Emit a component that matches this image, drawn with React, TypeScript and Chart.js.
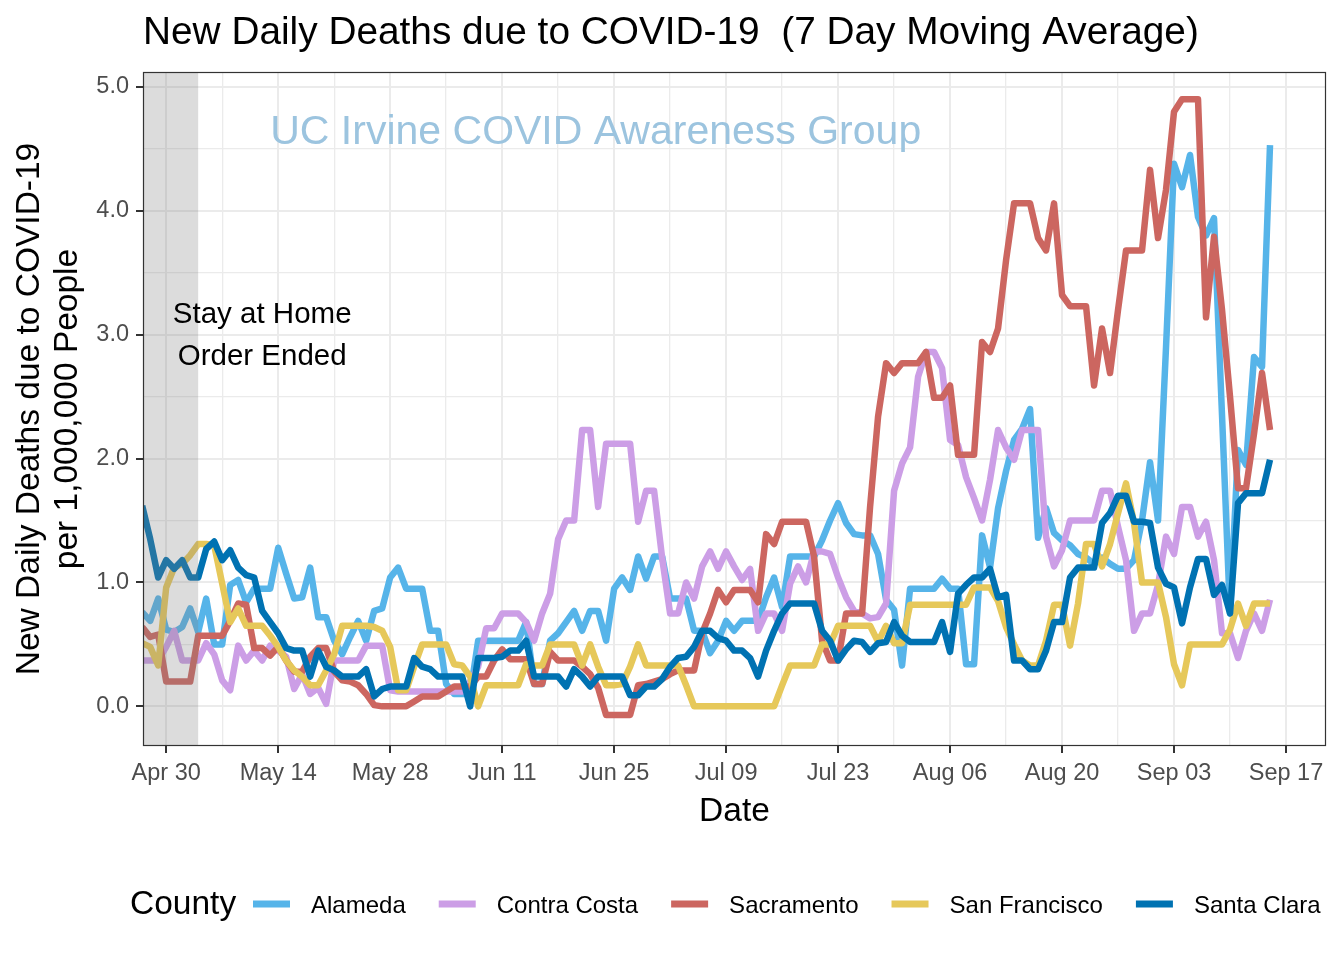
import React, { useEffect, useRef } from 'react';
import { Chart, registerables } from 'chart.js';

Chart.register(...registerables);

// Day index 0 = Apr 27, 2020
const counties = ['Alameda', 'Contra Costa', 'Sacramento', 'San Francisco', 'Santa Clara'];
const countyColors = ['#56B4E9', '#CC9EE6', '#CC6660', '#E6C85A', '#0072B2'];

const alameda = [
  0.76, 0.69, 0.87, 0.62, 0.60, 0.64, 0.79, 0.60, 0.87, 0.50,
  0.50, 0.98, 1.02, 0.84, 0.95, 0.95, 0.95, 1.28, 1.07, 0.87,
  0.88, 1.12, 0.72, 0.72, 0.53, 0.42, 0.56, 0.69, 0.53, 0.77,
  0.79, 1.04, 1.12, 0.95, 0.95, 0.95, 0.61, 0.61, 0.18, 0.10,
  0.10, 0.10, 0.53, 0.53, 0.53, 0.53, 0.53, 0.53, 0.68, 0.18,
  0.18, 0.53, 0.59, 0.68, 0.77, 0.61, 0.77, 0.77, 0.53, 0.95,
  1.04, 0.94, 1.21, 1.03, 1.21, 1.21, 0.87, 0.87, 0.87, 0.61,
  0.61, 0.43, 0.53, 0.69, 0.61, 0.69, 0.69, 0.69, 0.88, 1.04,
  0.80, 1.21, 1.21, 1.21, 1.21, 1.34, 1.50, 1.64, 1.48, 1.39,
  1.38, 1.38, 1.23, 0.86, 0.78, 0.33, 0.95, 0.95, 0.95, 0.95,
  1.03, 0.95, 0.95, 0.34, 0.34, 1.38, 1.12, 1.60, 1.90, 2.15,
  2.24, 2.40, 1.36, 1.60, 1.40, 1.34, 1.30, 1.23, 1.20, 1.15,
  1.20, 1.15, 1.11, 1.11, 1.18, 1.50, 1.97, 1.50, 2.90, 4.38,
  4.19, 4.45, 3.95, 3.80, 3.94, 2.35, 0.75, 2.07, 1.95, 2.82,
  2.74, 4.53,
];

const contraCosta = [
  0.37, 0.37, 0.37, 0.48, 0.61, 0.37, 0.37, 0.37, 0.51, 0.42,
  0.21, 0.13, 0.49, 0.37, 0.45, 0.37, 0.49, 0.45, 0.40, 0.14,
  0.26, 0.10, 0.15, 0.02, 0.37, 0.37, 0.37, 0.37, 0.49, 0.49,
  0.49, 0.13, 0.12, 0.12, 0.12, 0.12, 0.12, 0.12, 0.12, 0.12,
  0.12, 0.20, 0.32, 0.63, 0.63, 0.75, 0.75, 0.75, 0.68, 0.53,
  0.75, 0.91, 1.35, 1.50, 1.50, 2.23, 2.23, 1.61, 2.12, 2.12,
  2.12, 2.12, 1.49, 1.74, 1.74, 1.20, 0.75, 0.75, 1.00, 0.87,
  1.13, 1.25, 1.11, 1.25, 1.13, 1.02, 1.11, 0.61, 0.75, 0.75,
  0.61, 0.99, 1.13, 1.00, 1.25, 1.25, 1.23, 1.04, 0.88, 0.77,
  0.75, 0.71, 0.72, 0.83, 1.74, 1.96, 2.09, 2.66, 2.86, 2.86,
  2.73, 2.15, 2.11, 1.85, 1.68, 1.50, 1.83, 2.23, 2.09, 1.99,
  2.23, 2.23, 2.23, 1.37, 1.13, 1.26, 1.50, 1.50, 1.50, 1.50,
  1.74, 1.74, 1.45, 1.18, 0.61, 0.75, 0.75, 0.98, 1.37, 1.23,
  1.61, 1.61, 1.37, 1.49, 1.18, 0.59, 0.59, 0.39, 0.61, 0.75,
  0.61, 0.86,
];

const sacramento = [
  0.64, 0.56, 0.58, 0.20, 0.20, 0.20, 0.20, 0.57, 0.57, 0.57,
  0.57, 0.69, 0.83, 0.82, 0.47, 0.47, 0.41, 0.48, 0.37, 0.28,
  0.28, 0.40, 0.47, 0.47, 0.28, 0.21, 0.20, 0.17, 0.10, 0.01,
  0.00, 0.00, 0.00, 0.00, 0.04, 0.08, 0.08, 0.08, 0.12, 0.16,
  0.16, 0.16, 0.24, 0.24, 0.37, 0.46, 0.38, 0.38, 0.38, 0.18,
  0.18, 0.44, 0.37, 0.37, 0.37, 0.32, 0.26, 0.15, -0.07, -0.07,
  -0.07, -0.07, 0.17, 0.18, 0.20, 0.22, 0.26, 0.29, 0.29, 0.29,
  0.59, 0.75, 0.94, 0.84, 0.94, 0.94, 0.94, 0.84, 1.39, 1.31,
  1.49, 1.49, 1.49, 1.49, 1.21, 0.53, 0.37, 0.37, 0.75, 0.75,
  0.75, 1.61, 2.34, 2.77, 2.69, 2.77, 2.77, 2.77, 2.86, 2.49,
  2.49, 2.59, 2.03, 2.03, 2.03, 2.94, 2.86, 3.05, 3.60, 4.06,
  4.06, 4.06, 3.78, 3.68, 4.06, 3.32, 3.23, 3.23, 3.23, 2.59,
  3.05, 2.69, 3.20, 3.68, 3.68, 3.68, 4.33, 3.78, 4.17, 4.80,
  4.90, 4.90, 4.90, 3.14, 3.79, 3.20, 2.50, 1.76, 1.76, 2.20,
  2.69, 2.23,
];

const sanFrancisco = [
  0.51, 0.48, 0.33, 0.96, 1.12, 1.15, 1.22, 1.31, 1.31, 1.30,
  0.99, 0.68, 0.79, 0.65, 0.65, 0.65, 0.57, 0.48, 0.37, 0.29,
  0.24, 0.17, 0.17, 0.29, 0.42, 0.65, 0.65, 0.65, 0.65, 0.64,
  0.61, 0.48, 0.13, 0.13, 0.32, 0.50, 0.50, 0.50, 0.50, 0.34,
  0.33, 0.24, 0.00, 0.17, 0.17, 0.17, 0.17, 0.17, 0.34, 0.33,
  0.33, 0.50, 0.50, 0.50, 0.50, 0.33, 0.50, 0.32, 0.17, 0.17,
  0.18, 0.32, 0.50, 0.33, 0.33, 0.33, 0.33, 0.33, 0.17, 0.00,
  0.00, 0.00, 0.00, 0.00, 0.00, 0.00, 0.00, 0.00, 0.00, 0.00,
  0.17, 0.33, 0.33, 0.33, 0.33, 0.50, 0.50, 0.65, 0.65, 0.65,
  0.65, 0.65, 0.52, 0.65, 0.51, 0.51, 0.82, 0.82, 0.82, 0.82,
  0.82, 0.82, 0.82, 0.82, 0.96, 0.96, 0.96, 0.85, 0.64, 0.50,
  0.37, 0.33, 0.33, 0.53, 0.82, 0.82, 0.49, 0.83, 1.31, 1.31,
  1.13, 1.31, 1.56, 1.80, 1.48, 1.00, 1.00, 1.00, 0.72, 0.34,
  0.17, 0.50, 0.50, 0.50, 0.50, 0.50, 0.62, 0.83, 0.65, 0.83,
  0.83, 0.83,
];

const santaClara = [
  1.62, 1.35, 1.04, 1.18, 1.11, 1.18, 1.04, 1.04, 1.27, 1.33,
  1.18, 1.26, 1.12, 1.06, 1.04, 0.77, 0.68, 0.59, 0.47, 0.45,
  0.45, 0.24, 0.45, 0.32, 0.29, 0.24, 0.24, 0.24, 0.30, 0.08,
  0.14, 0.16, 0.16, 0.16, 0.39, 0.32, 0.30, 0.24, 0.24, 0.24,
  0.24, 0.00, 0.39, 0.39, 0.39, 0.40, 0.45, 0.45, 0.53, 0.24,
  0.24, 0.24, 0.24, 0.16, 0.30, 0.24, 0.16, 0.24, 0.24, 0.24,
  0.24, 0.09, 0.09, 0.16, 0.16, 0.22, 0.32, 0.39, 0.40, 0.48,
  0.61, 0.61, 0.55, 0.53, 0.45, 0.45, 0.39, 0.24, 0.45, 0.61,
  0.75, 0.83, 0.83, 0.83, 0.83, 0.61, 0.53, 0.37, 0.46, 0.53,
  0.52, 0.44, 0.51, 0.52, 0.68, 0.57, 0.52, 0.52, 0.52, 0.52,
  0.68, 0.44, 0.91, 0.98, 1.04, 1.04, 1.11, 0.88, 0.90, 0.37,
  0.37, 0.30, 0.30, 0.45, 0.68, 0.68, 1.04, 1.12, 1.12, 1.12,
  1.48, 1.56, 1.70, 1.70, 1.49, 1.49, 1.48, 1.12, 0.99, 0.96,
  0.67, 0.96, 1.19, 1.19, 0.90, 0.98, 0.75, 1.64, 1.72, 1.72,
  1.72, 1.99,
];

const seriesValues = [alameda, contraCosta, sacramento, sanFrancisco, santaClara];

const xMajorTicks = [3, 17, 31, 45, 59, 73, 87, 101, 115, 129, 143];
const xTickLabels = ['Apr 30', 'May 14', 'May 28', 'Jun 11', 'Jun 25', 'Jul 09', 'Jul 23', 'Aug 06', 'Aug 20', 'Sep 03', 'Sep 17'];
const xMinorTicks = [10, 24, 38, 52, 66, 80, 94, 108, 122, 136];
const yMajorTicks = [0, 1, 2, 3, 4, 5];
const yTickLabels = ['0.0', '1.0', '2.0', '3.0', '4.0', '5.0'];
const yMinorTicks = [0.5, 1.5, 2.5, 3.5, 4.5];
const stayHomeEndDay = 7;
const xMin = 0.1;
const xMax = 148;
const yMin = -0.32;
const yMax = 5.12;

const FONT = '"Liberation Sans", Arial, Helvetica, sans-serif';

function buildTicks(major: number[], minor: number[]) {
  return [
    ...major.map((v) => ({ value: v, major: true })),
    ...minor.map((v) => ({ value: v, major: false })),
  ].sort((a, b) => a.value - b.value);
}

const decorPlugin = {
  id: 'decor',
  beforeDatasetsDraw(chart: any) {
    const { ctx, scales } = chart;
    ctx.save();
    ctx.font = `41px ${FONT}`;
    ctx.fillStyle = '#9CC4DF';
    ctx.textAlign = 'center';
    ctx.textBaseline = 'alphabetic';
    ctx.fillText('UC Irvine COVID Awareness Group', scales.x.getPixelForValue(56.7), 144);
    ctx.restore();
  },
  afterDatasetsDraw(chart: any) {
    const { ctx, chartArea, scales } = chart;
    ctx.save();
    // shaded stay-at-home period
    const xr = scales.x.getPixelForValue(stayHomeEndDay);
    ctx.fillStyle = 'rgba(128,128,128,0.28)';
    ctx.fillRect(chartArea.left, chartArea.top, xr - chartArea.left, chartArea.bottom - chartArea.top);
    // annotation
    ctx.fillStyle = '#000000';
    ctx.font = `29.5px ${FONT}`;
    ctx.textAlign = 'center';
    ctx.textBaseline = 'middle';
    const ax = scales.x.getPixelForValue(15);
    ctx.fillText('Stay at Home', ax, scales.y.getPixelForValue(3.16));
    ctx.fillText('Order Ended', ax, scales.y.getPixelForValue(2.82));
    // panel border
    ctx.strokeStyle = '#333333';
    ctx.lineWidth = 1.2;
    ctx.strokeRect(chartArea.left + 0.5, chartArea.top + 0.5, chartArea.right - chartArea.left - 1, chartArea.bottom - chartArea.top - 1);
    ctx.restore();
  },
  afterDraw(chart: any) {
    const { ctx } = chart;
    ctx.save();
    // title
    ctx.fillStyle = '#000000';
    ctx.font = `38.8px ${FONT}`;
    ctx.textAlign = 'left';
    ctx.textBaseline = 'alphabetic';
    ctx.fillText('New Daily Deaths due to COVID-19  (7 Day Moving Average)', 143, 44);
    // legend
    ctx.font = `33.5px ${FONT}`;
    ctx.fillText('County', 130, 914);
    let x = 253;
    ctx.font = `24px ${FONT}`;
    counties.forEach((name, i) => {
      ctx.strokeStyle = countyColors[i];
      ctx.lineWidth = 7;
      ctx.lineCap = 'butt';
      ctx.beginPath();
      ctx.moveTo(x, 904);
      ctx.lineTo(x + 37, 904);
      ctx.stroke();
      ctx.fillStyle = '#000000';
      ctx.fillText(name, x + 58, 913);
      x = x + 58 + ctx.measureText(name).width + 33;
    });
    ctx.restore();
  },
};

export default function App() {
  const canvasRef = useRef<HTMLCanvasElement | null>(null);

  useEffect(() => {
    const canvas = canvasRef.current;
    if (!canvas) return;
    Chart.defaults.font.family = FONT;

    const datasets = counties.map((name, i) => ({
      label: name,
      data: seriesValues[i].map((v, d) => ({ x: d, y: v })),
      borderColor: countyColors[i],
      backgroundColor: countyColors[i],
      borderWidth: 6.5,
      pointRadius: 0,
      tension: 0,
      borderJoinStyle: 'round' as const,
      borderCapStyle: 'butt' as const,
      order: counties.length - i,
    }));

    const gridColor = '#EBEBEB';

    const chart = new Chart(canvas, {
      type: 'line',
      data: { datasets },
      options: {
        responsive: false,
        animation: false,
        events: [],
        layout: { padding: { top: 72, right: 18, bottom: 124, left: 0 } },
        plugins: {
          legend: { display: false },
          title: { display: false },
          tooltip: { enabled: false },
        },
        scales: {
          x: {
            type: 'linear',
            min: xMin,
            max: xMax,
            afterBuildTicks: (scale: any) => {
              scale.ticks = buildTicks(xMajorTicks, xMinorTicks);
            },
            afterFit: (scale: any) => {
              scale.height = 90;
            },
            ticks: {
              autoSkip: false,
              maxRotation: 0,
              minRotation: 0,
              padding: 6,
              color: '#4D4D4D',
              font: { size: 23.5 },
              callback: (value: any) => {
                const idx = xMajorTicks.indexOf(Number(value));
                return idx >= 0 ? xTickLabels[idx] : '';
              },
            },
            grid: {
              color: gridColor,
              lineWidth: (c: any) => (c.tick && c.tick.major ? 2 : 1.3),
              tickColor: (c: any) => (c.tick && c.tick.major ? '#333333' : 'rgba(0,0,0,0)'),
              tickWidth: 2,
              tickLength: 7,
              drawTicks: true,
            },
            border: { display: false },
            title: {
              display: true,
              text: 'Date',
              color: '#000000',
              font: { size: 33.5, lineHeight: 1.13 },
              padding: { top: 0, bottom: 5 },
            },
          },
          y: {
            type: 'linear',
            min: yMin,
            max: yMax,
            afterBuildTicks: (scale: any) => {
              scale.ticks = buildTicks(yMajorTicks, yMinorTicks);
            },
            afterFit: (scale: any) => {
              scale.width = 143;
            },
            ticks: {
              autoSkip: false,
              padding: 7,
              color: '#4D4D4D',
              font: { size: 23.5 },
              callback: (value: any) => {
                const idx = yMajorTicks.indexOf(Number(value));
                return idx >= 0 ? yTickLabels[idx] : '';
              },
            },
            grid: {
              color: gridColor,
              lineWidth: (c: any) => (c.tick && c.tick.major ? 2 : 1.3),
              tickColor: (c: any) => (c.tick && c.tick.major ? '#333333' : 'rgba(0,0,0,0)'),
              tickWidth: 2,
              tickLength: 7,
              drawTicks: true,
            },
            border: { display: false },
            title: {
              display: true,
              text: ['New Daily Deaths due to COVID-19', 'per 1,000,000 People'],
              color: '#000000',
              font: { size: 33.5, lineHeight: 1.13 },
              padding: { top: 11, bottom: 0 },
            },
          },
        },
      },
      plugins: [decorPlugin],
    });

    return () => chart.destroy();
  }, []);

  return (
    <div style={{ position: 'fixed', left: 0, top: 0, width: 1344, height: 960, background: '#ffffff' }}>
      <canvas ref={canvasRef} width={1344} height={960} style={{ display: 'block' }} />
    </div>
  );
}
